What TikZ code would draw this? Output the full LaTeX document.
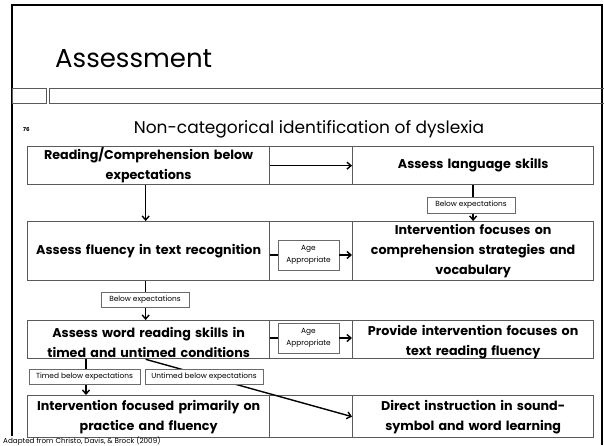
\documentclass[tikz,border=0pt]{standalone}
\usepackage{fontspec}
\setmainfont{Poppins}
\usetikzlibrary{arrows.meta}
\definecolor{rule}{HTML}{5A5A5A}
\definecolor{lbl}{HTML}{6A6A6A}
\begin{document}
\begin{tikzpicture}[x=1pt,y=-1pt,
  cell/.style={draw=rule, line width=1.3pt, anchor=north west, inner sep=0pt,
    align=center, font=\bfseries\fontsize{12.7}{20}\selectfont},
  gap/.style={draw=rule, line width=1.3pt, anchor=north west, inner sep=0pt},
  tag/.style={draw=lbl, line width=0.9pt, fill=white, inner sep=0pt,
    align=center, font=\fontsize{7.4}{11.5}\selectfont},
  flow/.style={draw=black, line width=1.4pt, -{Straight Barb[length=4pt,width=7pt]}},
  link/.style={draw=black, line width=1.4pt},
  frame/.style={draw=black, line width=2.5pt},
  band/.style={draw=rule, line width=1pt}
]
\useasboundingbox (0,0) rectangle (604,445);

% slide frame and header band
\draw[frame] (12,436) -- (12,5) -- (602,5) -- (602,445);
\draw[band] (12,88) rectangle (46,103);
\draw[band] (49,88) rectangle (604,103);

\node[anchor=base west, font=\fontsize{26}{26}\selectfont, inner sep=0pt] (title) at (55,67) {Assessment};
\node[anchor=base west, font=\bfseries\fontsize{5.5}{6}\selectfont, inner sep=0pt] (page) at (23,131) {76};
\node[anchor=base, font=\fontsize{17}{17}\selectfont, inner sep=0pt] (subtitle) at (309,133) {Non-categorical identification of dyslexia};

% row 1
\node[cell, minimum width=242pt, minimum height=38pt, text width=236pt] (r1l) at (27,146) {Reading/Comprehension below\\expectations};
\node[gap, minimum width=83pt, minimum height=38pt] (r1m) at (269,146) {};
\node[cell, minimum width=241pt, minimum height=38pt, text width=235pt] (r1r) at (352,146) {Assess language skills};

% row 2
\node[cell, minimum width=242pt, minimum height=59pt, text width=236pt] (r2l) at (27,221) {Assess fluency in text recognition};
\node[gap, minimum width=83pt, minimum height=59pt] (r2m) at (269,221) {};
\node[cell, minimum width=241pt, minimum height=59pt, text width=235pt] (r2r) at (352,221) {Intervention focuses on\\comprehension strategies and\\vocabulary};

% row 3 (text sits a little low in its cell)
\node[cell, minimum width=242pt, minimum height=38pt, text width=236pt] (r3l) at (27,320) {};
\node[gap, minimum width=83pt, minimum height=38pt] (r3m) at (269,320) {};
\node[cell, minimum width=241pt, minimum height=38pt, text width=235pt] (r3r) at (352,320) {};
\node[cell, draw=none, anchor=center, text width=236pt] (r3lt) at ([yshift=-3pt]r3l.center) {Assess word reading skills in\\timed and untimed conditions};
\node[cell, draw=none, anchor=center, text width=235pt] (r3rt) at ([yshift=-3pt]r3r.center) {Provide intervention focuses on\\text reading fluency};

% row 4
\node[cell, minimum width=242pt, minimum height=42pt, text width=236pt] (r4l) at (27,395) {Intervention focused primarily on\\practice and fluency};
\node[gap, minimum width=83pt, minimum height=42pt] (r4m) at (269,395) {};
\node[cell, minimum width=241pt, minimum height=42pt, text width=235pt] (r4r) at (352,395) {Direct instruction in sound-\\symbol and word learning};

% connectors running behind the labels
\draw[flow] (r1l.east) -- (r1r.west);
\draw[flow] ([xshift=-3pt]r1l.south) -- ([xshift=-3pt]r2l.north);
\draw[flow] (r1r.south) -- (r2r.north);
\draw[flow] ([xshift=-3pt]r2l.south) -- ([xshift=-3pt]r3l.north);
\coordinate (timedx) at (86,0);
\draw[flow] (r3l.south -| timedx) -- (r4l.north -| timedx);
\draw[flow] ([xshift=-3pt]r3l.south) -- (r4r.west);

% labels
\node[tag, minimum width=88pt, minimum height=16pt] (be1) at (471,205) {Below expectations};
\node[tag, minimum width=88pt, minimum height=15pt] (be2) at (145,299.5) {Below expectations};
\node[tag, minimum width=111pt, minimum height=15pt] (tbe) at (84.5,376.5) {Timed below expectations};
\node[tag, minimum width=118pt, minimum height=15pt] (ube) at (204,376.5) {Untimed below expectations};
\node[tag, minimum width=61pt, minimum height=30pt] (age1) at (308.5,255) {Age\\Appropriate};
\node[tag, minimum width=61pt, minimum height=30pt] (age2) at (308.5,338) {Age\\Appropriate};

\draw[link] (r2l.east |- age1) -- (age1.west);
\draw[flow] (age1.east) -- (r2r.west |- age1);
\draw[link] (r3l.east |- age2) -- (age2.west);
\draw[flow] (age2.east) -- (r3r.west |- age2);

\node[anchor=base west, font=\fontsize{7.2}{7.5}\selectfont, inner sep=0pt] (source) at (3,443) {Adapted from Christo, Davis, \& Brock (2009)};
\end{tikzpicture}
\end{document}
